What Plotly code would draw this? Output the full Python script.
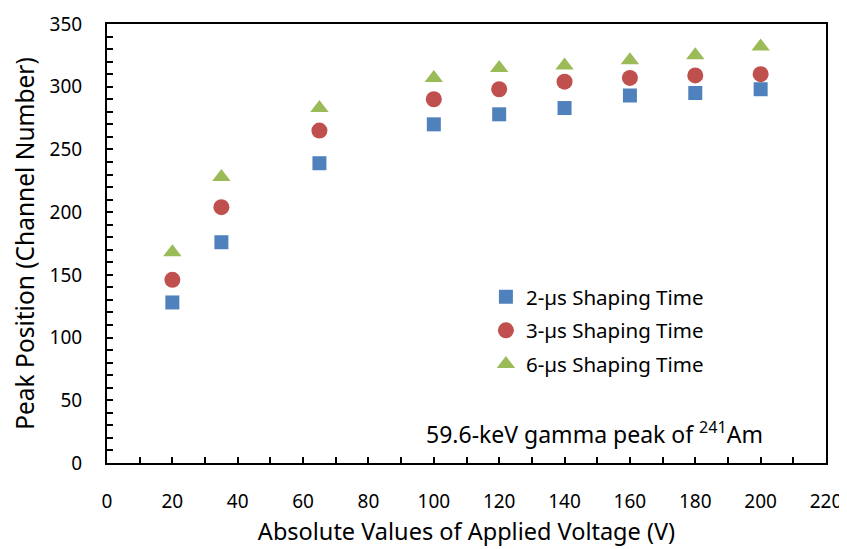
import plotly.graph_objects as go

voltage = [20, 35, 65, 100, 120, 140, 160, 180, 200]
shaping_2us = [128, 176, 239, 270, 278, 283, 293, 295, 298]
shaping_3us = [146, 204, 265, 290, 298, 304, 307, 309, 310]
shaping_6us = [168, 228, 283, 307, 315, 317, 321, 325, 332]

FONT = "Noto Sans"
fig = go.Figure()
fig.add_trace(go.Scatter(x=voltage, y=shaping_2us, mode="markers", name="2-µs Shaping Time",
                         legendgroup="a",
                         marker=dict(symbol="square", size=14, color="#4F81BD")))
fig.add_trace(go.Scatter(x=voltage, y=shaping_3us, mode="markers", name="3-µs Shaping Time",
                         legendgroup="b",
                         marker=dict(symbol="circle", size=16, color="#C0504D")))
fig.add_trace(go.Scatter(x=voltage, y=shaping_6us, mode="markers", name="6-µs Shaping Time",
                         legendgroup="c",
                         marker=dict(symbol="triangle-up", size=16, color="#9BBB59")))

axis_common = dict(showline=True, linecolor="black", linewidth=2, mirror=True,
                   ticks="inside", ticklen=6, tickwidth=1.5, tickcolor="black",
                   showgrid=False, zeroline=False, automargin=False,
                   tickfont=dict(family=FONT, size=19, color="black"))
fig.update_xaxes(range=[0, 220], dtick=20, tick0=0,
                 minor=dict(dtick=10, ticks="inside", ticklen=6, tickcolor="black"),
                 title=dict(text="Absolute Values of Applied Voltage (V)",
                            font=dict(family=FONT, size=23.5, color="black"), standoff=11),
                 ticklabelstandoff=20,
                 **axis_common)
fig.update_yaxes(range=[0, 350], dtick=50, tick0=0,
                 minor=dict(dtick=10, ticks="inside", ticklen=6, tickcolor="black"),
                 title=dict(text="Peak Position (Channel Number)",
                            font=dict(family=FONT, size=24.5, color="black"), standoff=14),
                 ticklabelstandoff=19,
                 **axis_common)

fig.add_annotation(x=0.915, y=0.025, xref="paper", yref="paper", xanchor="right", yanchor="bottom",
                   text="59.6-keV gamma peak of <sup>241</sup>Am", showarrow=False,
                   font=dict(family=FONT, size=23, color="black"))

# page body has an 8px margin, so the figure is shrunk and margins offset accordingly
fig.update_layout(width=839, height=541, plot_bgcolor="white", paper_bgcolor="white",
                  margin=dict(l=99, r=21, t=16, b=86),
                  legend=dict(x=0.527, y=0.424, xanchor="left", yanchor="top",
                              font=dict(family=FONT, size=20.5, color="black"),
                              bgcolor="rgba(0,0,0,0)", tracegroupgap=4, itemsizing="trace"),
                  showlegend=True)
fig.write_html("out.html")
